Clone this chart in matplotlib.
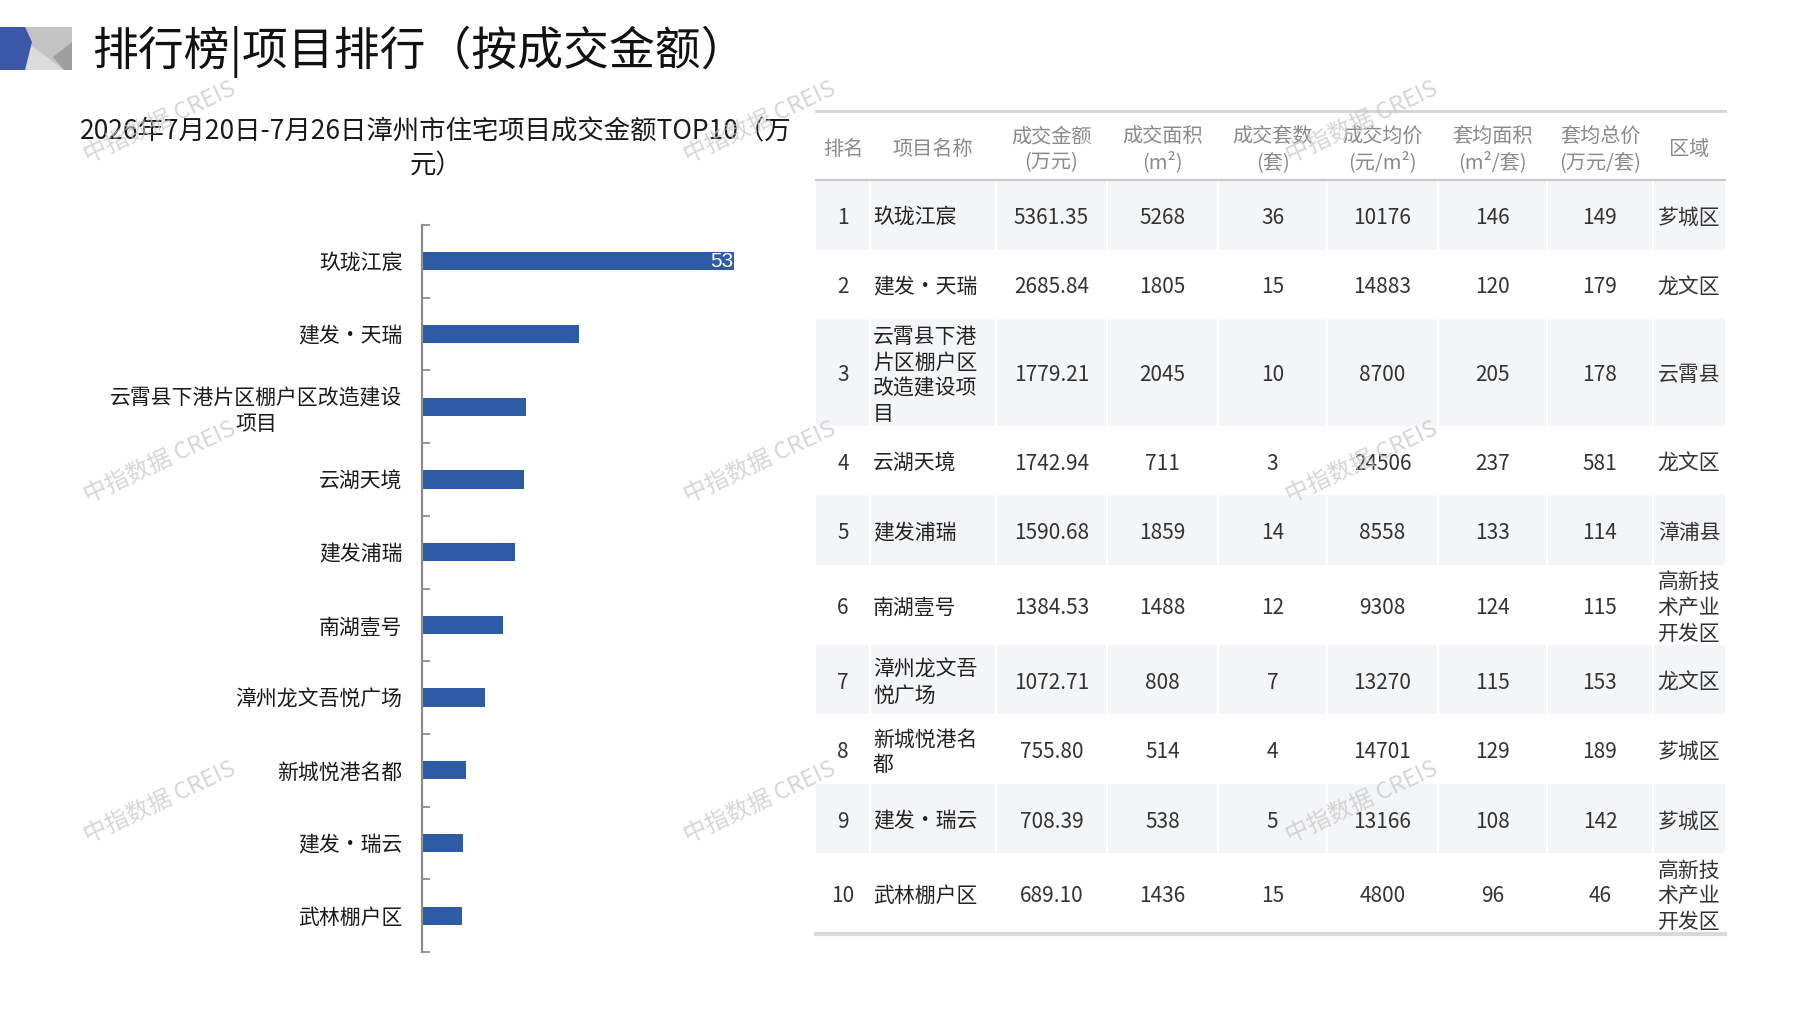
import matplotlib
matplotlib.use("Agg")
import matplotlib.pyplot as plt
from matplotlib.patches import Polygon, Rectangle
import numpy as np

plt.rcParams['font.family'] = ['Noto Sans CJK SC', 'DejaVu Sans']

W, H = 1797, 1010

# data
ranks = list(range(1, 11))
projects = ['玖珑江宸', '建发•天瑞', '云霄县下港片区棚户区改造建设项目', '云湖天境', '建发浦瑞',
            '南湖壹号', '漳州龙文吾悦广场', '新城悦港名都', '建发•瑞云', '武林棚户区']
amounts = [5361.35, 2685.84, 1779.21, 1742.94, 1590.68, 1384.53, 1072.71, 755.80, 708.39, 689.10]
areas = [5268, 1805, 2045, 711, 1859, 1488, 808, 514, 538, 1436]
units = [36, 15, 10, 3, 14, 12, 7, 4, 5, 15]
prices = [10176, 14883, 8700, 24506, 8558, 9308, 13270, 14701, 13166, 4800]
unit_areas = [146, 120, 205, 237, 133, 124, 115, 129, 108, 96]
unit_totals = [149, 179, 178, 581, 114, 115, 153, 189, 142, 46]
districts = ['芗城区', '龙文区', '云霄县', '龙文区', '漳浦县', '高新技术产业开发区',
             '龙文区', '芗城区', '芗城区', '高新技术产业开发区']
headers = ['排名', '项目名称', '成交金额\n(万元)', '成交面积\n(m²)', '成交套数\n(套)',
           '成交均价\n(元/m²)', '套均面积\n(m²/套)', '套均总价\n(万元/套)', '区域']

title = '排行榜|项目排行（按成交金额）'
chart_title = '2026年7月20日-7月26日漳州市住宅项目成交金额TOP10（万\n元）'

bar_color = '#2E5BA6'


def wrap(s, n):
    return '\n'.join(s[i:i + n] for i in range(0, len(s), n))


def px_rect(x0, y0, x1, y1):
    # pixel box -> figure fraction [left, bottom, width, height]
    return [x0 / W, 1 - y1 / H, (x1 - x0) / W, (y1 - y0) / H]


fig = plt.figure(figsize=(W / 100, H / 100), dpi=100)
fig.patch.set_facecolor('white')

# ---- bar chart ----
ax = fig.add_axes(px_rect(422, 225, 795, 952))
y = np.arange(len(projects))
ax.barh(y, amounts, height=0.25, color=bar_color, zorder=2)
ax.set_xlim(0, 6400)
ax.set_ylim(len(projects) - 0.5, -0.5)
ax.set_yticks(y)
ax.set_yticklabels([wrap(p, 14) for p in projects])
for lbl in ax.get_yticklabels():
    lbl.set_multialignment('center')
    lbl.set_color('#1a1a1a')
ax.set_yticks(np.arange(-0.5, len(projects), 1), minor=True)
ax.tick_params(axis='y', which='major', length=0, pad=14, labelsize=15)
ax.tick_params(axis='y', which='minor', length=6, direction='in', color='#8c8c8c', width=1.3)
ax.xaxis.set_visible(False)
for s in ['top', 'right', 'bottom']:
    ax.spines[s].set_visible(False)
ax.spines['left'].set_color('#8c8c8c')
ax.spines['left'].set_linewidth(1.6)
ax.patch.set_alpha(0)

# clipped data label on the first bar
ax.text(amounts[0] - 20, 0, str(amounts[0])[:2], color='white', ha='right', va='center',
        fontsize=15, family='Liberation Sans', zorder=3)

# ---- table ----
col_w = [54, 126, 111, 111, 109, 111, 109, 106, 72]
col_x = np.concatenate([[0], np.cumsum(col_w)])
head_h = 69

rows = []
for i in range(len(projects)):
    rows.append([str(ranks[i]), wrap(projects[i], 5), f'{amounts[i]:.2f}', str(areas[i]),
                 str(units[i]), str(prices[i]), str(unit_areas[i]), str(unit_totals[i]),
                 wrap(districts[i], 3)])
row_h = [max(69.5, 26.7 * max(c.count('\n') + 1 for c in r)) for r in rows]
total_h = head_h + sum(row_h)

tx0, ty0 = 816, 111
tax = fig.add_axes(px_rect(tx0, ty0, tx0 + col_x[-1], ty0 + total_h))
tax.set_xlim(0, col_x[-1])
tax.set_ylim(total_h, 0)
tax.axis('off')

for j, h in enumerate(headers):
    tax.text((col_x[j] + col_x[j + 1]) / 2, head_h / 2 + 4, h, ha='center', va='center',
             fontsize=14.5, color='#8a8a8a', linespacing=1.3, clip_on=False)

top = head_h
for i, r in enumerate(rows):
    h = row_h[i]
    if i % 2 == 0:
        tax.add_patch(Rectangle((0, top), col_x[-1], h, facecolor='#f4f5f7', edgecolor='none', zorder=0))
        for cx in col_x[1:-1]:
            tax.plot([cx, cx], [top, top + h], color='white', lw=1.5, zorder=1)
    for j, c in enumerate(r):
        if j == 1:
            tax.text(col_x[j] + 3, top + h / 2 + 3, c, ha='left', va='center', fontsize=15,
                     color='#222222', linespacing=1.22, zorder=2)
        else:
            tax.text((col_x[j] + col_x[j + 1]) / 2, top + h / 2 + 3, c, ha='center', va='center',
                     fontsize=15, color='#333333', linespacing=1.22, zorder=2)
    top += h

tax.plot([0, col_x[-1]], [0, 0], color='#d4d4d4', lw=2, clip_on=False)
tax.plot([0, col_x[-1]], [head_h, head_h], color='#c8c8c8', lw=1.5, clip_on=False)
tax.plot([0, col_x[-1]], [total_h, total_h], color='#d9d9d9', lw=3, clip_on=False)

# ---- overlay: logo, titles, watermarks ----
ov = fig.add_axes([0, 0, 1, 1], zorder=5)
ov.set_xlim(0, W)
ov.set_ylim(H, 0)
ov.axis('off')
ov.patch.set_alpha(0)

ov.add_patch(Rectangle((25, 27), 47, 43, facecolor='#c3c3c3', edgecolor='none'))
ov.add_patch(Polygon([(23, 70), (28, 43), (64, 70)], closed=True, facecolor='#dcdcdc', edgecolor='none'))
ov.add_patch(Polygon([(53, 57), (72, 42), (72, 70), (64, 70)], closed=True, facecolor='#9e9e9e', edgecolor='none'))
ov.add_patch(Polygon([(0, 27), (25, 27), (32, 42), (25, 70), (0, 70)], closed=True,
                     facecolor='#3a57a8', edgecolor='none'))

ov.text(92, 52, title, fontsize=33, va='center', ha='left', color='#111111')
ov.text(436, 149, chart_title, fontsize=19, va='center', ha='center', color='#1a1a1a',
        linespacing=1.3, multialignment='center')

for wx in [160, 760, 1362]:
    for wy in [122, 462, 802]:
        ov.text(wx, wy, '中指数据 CREIS', fontsize=17, rotation=25, ha='center', va='center',
                color='#c8c8c8', alpha=0.75, rotation_mode='anchor')

fig.savefig('out.png', dpi=100, facecolor='white')
